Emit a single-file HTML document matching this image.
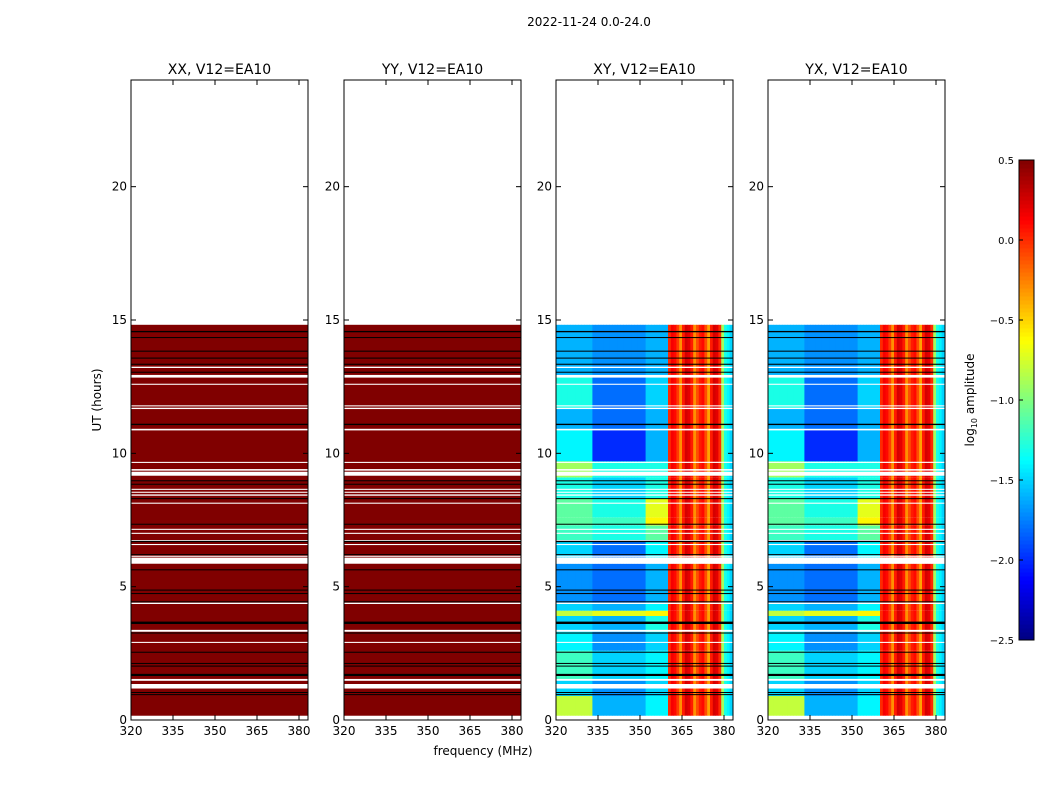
<!DOCTYPE html>
<html><head><meta charset="utf-8"><style>
body{margin:0;background:#fff}
svg text{font-family:"DejaVu Sans","Liberation Sans",sans-serif}
</style></head><body>
<svg id="fig" width="1050" height="800" viewBox="0 0 1050 800" xmlns="http://www.w3.org/2000/svg">
<rect width="1050" height="800" fill="#fff"/>
<text x="589" y="26" font-size="12" text-anchor="middle">2022-11-24 0.0-24.0</text>
<g id="panels"></g>
<text x="483" y="755" font-size="12" text-anchor="middle">frequency (MHz)</text>
<text transform="translate(101,400) rotate(-90)" font-size="12" text-anchor="middle">UT (hours)</text>
<g id="cbar"></g>
<text transform="translate(974,400) rotate(-90)" font-size="12" text-anchor="middle">log<tspan font-size="8" dy="3">10</tspan><tspan dy="-3"> amplitude</tspan></text>
</svg>
<script>
// ---- data ----
const panelTitles = ["XX, V12=EA10","YY, V12=EA10","XY, V12=EA10","YX, V12=EA10"];
const xTicks = [320,335,350,365,380];
const yTicks = [0,5,10,15,20];
const cbTicks = [0.5,0.0,-0.5,-1.0,-1.5,-2.0,-2.5];
const dataStart = 0.16, dataEnd = 14.82;
const whiteGaps = [[13.20,13.25],[12.84,12.94],[12.57,12.61],[11.76,11.80],[11.66,11.71],[10.86,10.92],[9.64,9.68],[9.35,9.41],[9.16,9.31],[8.63,8.67],[8.52,8.56],[8.41,8.46],[8.11,8.15],[7.13,7.17],[6.98,7.02],[6.71,6.75],[6.56,6.60],[6.12,6.16],[5.86,6.09],[4.35,4.40],[3.31,3.38],[2.89,2.93],[1.47,1.54],[1.18,1.35]];
const blackLines = [[14.54,14.59],[14.33,14.36],[13.82,13.85],[13.57,13.59],[13.32,13.36],[13.04,13.06],[11.06,11.11],[8.97,8.99],[8.84,8.86],[8.30,8.32],[7.34,7.36],[6.67,6.72],[6.20,6.22],[5.63,5.65],[4.87,4.89],[4.74,4.76],[4.43,4.45],[3.60,3.69],[3.26,3.28],[2.54,2.56],[2.12,2.14],[2.02,2.04],[1.65,1.73],[1.03,1.05],[0.95,0.97]];
const bandStart = [0.16,0.9,1.5,2.6,3.3,3.9,4.1,4.4,6.1,6.7,7.3,7.6,8.3,9.1,9.7,10.9,11.7,12.9];
const bandEnd   = [0.9,1.5,2.6,3.3,3.9,4.1,4.4,5.86,6.7,7.3,7.6,8.3,9.1,9.7,10.9,11.7,12.9,14.82];
const bandLeft  = [-0.8,-1.5,-1.2,-1.4,-1.5,-0.8,-1.5,-1.7,-1.5,-1.2,-1.1,-1.1,-1.3,-0.9,-1.4,-1.6,-1.3,-1.6];
const bandMid   = [-1.6,-1.7,-1.5,-1.7,-1.6,-0.7,-1.6,-1.8,-1.8,-1.3,-1.2,-1.3,-1.5,-1.3,-2.0,-1.8,-1.8,-1.7];
const bandNear  = [-1.4,-1.5,-1.4,-1.5,-1.3,-0.6,-1.4,-1.6,-1.4,-1.1,-0.6,-0.7,-1.3,-1.3,-1.6,-1.6,-1.5,-1.6];
const rightFreq = [360,361,362,363,364,365,366,367,368,369,370,371,372,373,374,375,376,377,378,379,380,381,382,383];
const rightVals = [0.0,0.15,0.1,-0.05,-0.3,0.05,0.25,0.2,0.05,-0.3,-0.1,0.05,0.1,-0.1,-0.35,0.05,0.25,0.2,0.0,-0.9,-1.3,-1.4,-1.5,-1.5];

// ---- geometry ----
const panelX = [131,344,556,768], pw = 177, pTop = 80, pBot = 720;
const fmin = 320, fmax = 320 + 177/2.8;
const NS = "http://www.w3.org/2000/svg";
function yS(h){return pBot - (h/24)*(pBot-pTop);}
function xS(i,f){return panelX[i] + (f-fmin)/(fmax-fmin)*pw;}
function jet(v){
  let t=(v+2.5)/3; t=Math.max(0,Math.min(1,t));
  const c=x=>Math.round(255*Math.max(0,Math.min(1,x)));
  return `rgb(${c(1.5-Math.abs(4*t-3))},${c(1.5-Math.abs(4*t-2))},${c(1.5-Math.abs(4*t-1))})`;
}
function mk(tag,attrs,parent){const e=document.createElementNS(NS,tag);for(const k in attrs)e.setAttribute(k,attrs[k]);parent.appendChild(e);return e;}
const P = document.getElementById('panels');
for(let i=0;i<4;i++){
  const g = mk('g',{},P);
  
  
  const x0=panelX[i];
  if(i<2){
    const r=mk('rect',{x:x0,y:yS(dataEnd),width:pw,height:yS(dataStart)-yS(dataEnd),fill:'#800000'},g);
    
    
  } else {
    for(let b=0;b<bandStart.length;b++){
      const y1=yS(bandEnd[b]), y2=yS(bandStart[b]);
      for(let f=320; f<384; f++){
        let v;
        if(f<333) v=bandLeft[b]; else if(f<352) v=bandMid[b]; else if(f<360) v=bandNear[b];
        else v=rightVals[rightFreq.indexOf(f)];
        const xa=xS(i,f), xb=Math.min(xS(i,f+1),x0+pw);
        if(xb<=xa) continue;
        const r=mk('rect',{x:xa,y:y1,width:xb-xa+0.4,height:y2-y1,fill:jet(v)},g);
        
        
      }
    }
  }
  for(const [a,b] of whiteGaps){
    const r=mk('rect',{x:x0,y:yS(b),width:pw,height:Math.max(1,yS(a)-yS(b)),fill:'#fff'},g);
    
    
  }
  for(const [a,b] of blackLines){
    const r=mk('rect',{x:x0,y:yS(b),width:pw,height:Math.max(1,yS(a)-yS(b)),fill:'#000'},g);
    
    
  }
  const fr=mk('rect',{x:x0,y:pTop,width:pw,height:pBot-pTop,fill:'none',stroke:'#000','stroke-width':1},g);
  
  
  const t=mk('text',{x:x0+pw/2,y:74,'font-size':14,'text-anchor':'middle'},g);
  t.textContent=panelTitles[i];
  
  
  for(const f of xTicks){
    const x=xS(i,f);
    mk('line',{x1:x,x2:x,y1:pBot,y2:pBot-5,stroke:'#000'},g);
    mk('line',{x1:x,x2:x,y1:pTop,y2:pTop+5,stroke:'#000'},g);
    const tx=mk('text',{x:x,y:pBot+15,'font-size':12,'text-anchor':'middle'},g);
    tx.textContent=f;
    
    
  }
  for(const h of yTicks){
    const y=yS(h);
    mk('line',{x1:x0,x2:x0+5,y1:y,y2:y,stroke:'#000'},g);
    mk('line',{x1:x0+pw,x2:x0+pw-5,y1:y,y2:y,stroke:'#000'},g);
    const ty=mk('text',{x:x0-4,y:y+4,'font-size':12,'text-anchor':'end'},g);
    ty.textContent=h;
    
    
  }
}
// colorbar
const C=document.getElementById('cbar');
const cx=1019,cw=15,ct=160,cb=640;
for(let k=0;k<120;k++){
  const v=-2.5+3*(k+0.5)/120;
  const y=cb-(k+1)*(cb-ct)/120;
  const r=mk('rect',{x:cx,y:y,width:cw,height:(cb-ct)/120+0.5,fill:jet(v)},C);
  
  
}
mk('rect',{x:cx,y:ct,width:cw,height:cb-ct,fill:'none',stroke:'#000'},C);
for(const v of cbTicks){
  const y=cb-(v+2.5)/3*(cb-ct);
  mk('line',{x1:cx,x2:cx+4,y1:y,y2:y,stroke:'#000'},C);
  const t=mk('text',{x:1014,y:y+4,'font-size':10,'text-anchor':'end'},C);
  t.textContent=(v<0?'\u2212':'')+Math.abs(v).toFixed(1);
  
  
}
</script>
</body></html>
